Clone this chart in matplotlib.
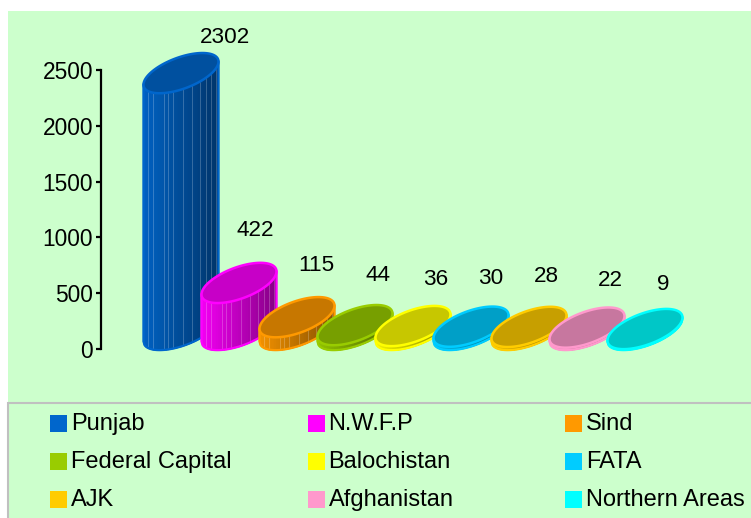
import numpy as np
import matplotlib
matplotlib.use('Agg')
import matplotlib.pyplot as plt
from matplotlib.patches import Polygon, Rectangle

plt.rcParams['font.family'] = ['Liberation Sans', 'DejaVu Sans']

names = ['Punjab', 'N.W.F.P', 'Sind', 'Federal Capital', 'Balochistan', 'FATA',
         'AJK', 'Afghanistan', 'Northern Areas']
values = [2302, 422, 115, 44, 36, 30, 28, 22, 9]
colors = ['#0066CC', '#FF00FF', '#FF9900', '#99CC00', '#FFFF00', '#00CCFF',
          '#FFCC00', '#FF99CC', '#00FFFF']
y_ticks = [0, 500, 1000, 1500, 2000, 2500]

# label offsets from the top of each cylinder, in pixels
label_dx = [44, 16, 19, 23, 23, 20, 17, 23, 18]
label_dy = [36, 52, 52, 50, 47, 48, 50, 47, 45]
# thin light streaks on the cylinder sides, as fraction of the width
streaks = [0.06, 0.12, 0.27, 0.33, 0.39, 0.52, 0.64, 0.75, 0.83, 0.90, 0.96]

W, H = 751, 518
BG = '#CCFFCC'
fig = plt.figure(figsize=(W / 100, H / 100), dpi=100, facecolor='white')

# background and legend live in a pixel axes
bg = fig.add_axes([0, 0, 1, 1])
bg.set_xlim(0, W)
bg.set_ylim(H, 0)
bg.axis('off')
bg.add_patch(Rectangle((8, 11), W, H, fc=BG, ec='none'))
bg.add_patch(Rectangle((8, 403), W + 10, H, fc=BG, ec='#C0C0C0', lw=1.5, clip_on=True))

for i, (name, col) in enumerate(zip(names, colors)):
    row, c = i // 3, i % 3
    x = 50 + 257.5 * c
    y = 423 + 38 * row
    bg.add_patch(Rectangle((x, y - 8.5), 17, 17, fc=col, ec='none'))
    bg.text(x + 21, y + 1, name, fontsize=17, va='center', ha='left', color='black')

# value axes, placed so 0 sits at y=349 and 2500 at y=70
left, right, top, bottom = 101, 700, 70, 349
ax = fig.add_axes([left / W, 1 - bottom / H, (right - left) / W, (bottom - top) / H])
ax.patch.set_visible(False)
px_x = 58.0
px_y = (bottom - top) / 2500.0
ax.set_xlim((left - 181) / px_x, (right - 181) / px_x)
ax.set_ylim(0, 2500)
for s in ['top', 'right', 'bottom']:
    ax.spines[s].set_visible(False)
ax.spines['left'].set_linewidth(1.6)
ax.set_xticks([])
ax.set_yticks(y_ticks)
ax.tick_params(axis='y', length=3.6, width=1.6, pad=2, labelsize=16.4)

a = 37.5 / px_x
b = 16.5 / px_y
shear = 11.5 / px_y / a
lift = 170.0
t = np.linspace(0, 2 * np.pi, 121)


def shade(col, f):
    return tuple(np.array(matplotlib.colors.to_rgb(col)) * f)


def lower(u):
    return shear * u - b * np.sqrt(np.clip(1 - (u / a) ** 2, 0, 1))


for i, (v, col) in enumerate(zip(values, colors)):
    yt = v + lift
    yb = lift
    # side, as vertical strips going darker to the right
    edges = np.linspace(-a, a, 31)
    for j in range(30):
        u = np.linspace(edges[j], edges[j + 1], 3)
        f = 0.95 - 0.42 * (j / 29.0)
        pts = np.r_[np.c_[i + u, yb + lower(u)], np.c_[i + u[::-1], yt + lower(u[::-1])]]
        ax.add_patch(Polygon(pts, fc=shade(col, f), ec=shade(col, f), lw=1.0,
                             clip_on=False, zorder=3 + i))
    if v > 80:
        for fr in streaks:
            u = -a + 2 * a * fr
            ax.plot([i + u, i + u], [yb + lower(u), yt + lower(u)], color='white',
                    alpha=0.25, lw=0.6, clip_on=False, zorder=3 + i)
    # outline of the side
    u = np.linspace(-a, a, 81)
    ax.plot(np.r_[i - a, i + u, i + a],
            np.r_[yt - shear * a, yb + lower(u), yt + shear * a],
            color=col, lw=1.6, clip_on=False, zorder=3 + i, solid_joinstyle='round')
    # top face
    ex = a * np.cos(t)
    ey = shear * ex + b * np.sin(t)
    ax.add_patch(Polygon(np.c_[i + ex, yt + ey], fc=shade(col, 0.78), ec=col, lw=1.8,
                         clip_on=False, zorder=3 + i))
    ax.annotate(str(v), (i, yt), xytext=(label_dx[i] * 0.72, label_dy[i] * 0.72),
                textcoords='offset points', ha='center', va='center',
                fontsize=16.2, color='black', zorder=30, annotation_clip=False)

fig.savefig('out.png', dpi=100, facecolor='white')
